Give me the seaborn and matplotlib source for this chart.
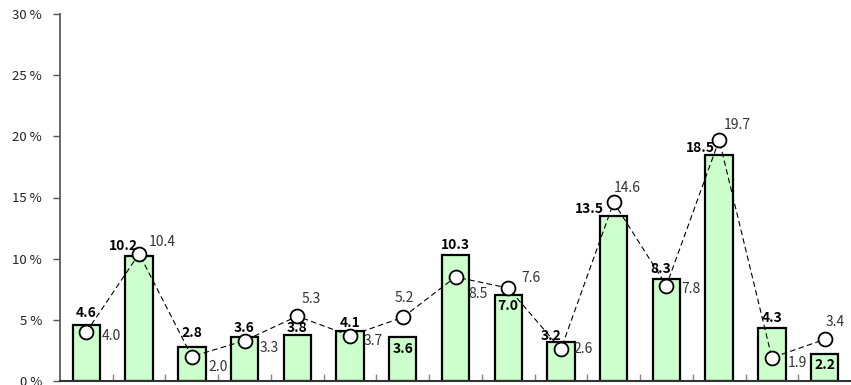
import matplotlib
matplotlib.use("Agg")
import matplotlib.pyplot as plt
import seaborn as sns
import pandas as pd
import numpy as np

categories = [f"C{i+1}" for i in range(15)]
bar_values = [4.6, 10.2, 2.8, 3.6, 3.8, 4.1, 3.6, 10.3, 7.0, 3.2, 13.5, 8.3, 18.5, 4.3, 2.2]
line_values = [4.0, 10.4, 2.0, 3.3, 5.3, 3.7, 5.2, 8.5, 7.6, 2.6, 14.6, 7.8, 19.7, 1.9, 3.4]
y_ticks = [0, 5, 10, 15, 20, 25, 30]
y_tick_labels = [f"{t} %" for t in y_ticks]

# label offsets in pixels (layout only)
bar_label_offsets = [(0, 12), (-16, 10), (0, 14), (0, 9), (0, 7), (0, 8), (0, -12), (0, 10),
                     (0, -11), (-10, 6), (-24, 7), (-6, 10), (-19, 7), (0, 10), (0, -11)]
line_label_offsets = [(25, -4), (23, 12), (26, -10), (25, -7), (14, 17), (23, -5), (2, 19), (23, -17),
                      (23, 10), (22, 0), (14, 14), (25, -3), (18, 15), (26, -5), (11, 17)]

sns.set_theme(style="white")
plt.rcParams['font.family'] = ['Noto Sans CJK JP', 'DejaVu Sans']

df = pd.DataFrame({"cat": categories, "bar": bar_values, "line": line_values,
                   "pos": np.arange(len(categories))})

fig = plt.figure(figsize=(8.51, 3.85), dpi=100)
ax = fig.add_axes([60/851, 1-381/385, 1-60/851, (381-14)/385])

sns.barplot(data=df, x="cat", y="bar", ax=ax, color="#CCFFCC", width=0.52,
            edgecolor="black", linewidth=1.6, saturation=1)
sns.lineplot(data=df, x="pos", y="line", ax=ax, color="black", linestyle=(0, (5, 3)),
             linewidth=0.8, marker="o", markersize=10, markerfacecolor="white",
             markeredgecolor="black", markeredgewidth=1.3, zorder=5)

for i, (b, l) in enumerate(zip(bar_values, line_values)):
    dx, dy = bar_label_offsets[i]
    ax.annotate(f"{b:.1f}", (i, b), xytext=(dx, dy), textcoords="offset pixels",
                ha="center", va="center", fontsize=10, fontweight="bold", color="black", zorder=6)
    dx, dy = line_label_offsets[i]
    ax.annotate(f"{l:.1f}", (i, l), xytext=(dx, dy), textcoords="offset pixels",
                ha="center", va="center", fontsize=10, color="#333333", zorder=6)

ax.set_xlim(-0.5, len(categories) - 0.5)
ax.set_ylim(0, 30)
ax.set_yticks(y_ticks)
ax.set_yticklabels(y_tick_labels, fontsize=9.5, color="#222222")
ax.set_xticks([])
ax.set_xticks(np.arange(0.5, len(categories) - 0.5, 1), minor=True)
ax.tick_params(axis="x", which="minor", direction="in", length=5, width=1, color="#888888", bottom=True)
ax.tick_params(axis="y", direction="out", length=5, width=1, color="#555555", left=True, pad=8)
ax.set_xlabel("")
ax.set_ylabel("")
for s in ["top", "right"]:
    ax.spines[s].set_visible(False)
ax.spines["left"].set_color("#555555")
ax.spines["bottom"].set_color("#333333")
ax.spines["bottom"].set_linewidth(1.5)
ax.grid(False)
ax.patch.set_alpha(0)

fig.savefig("out.png", dpi=100)
